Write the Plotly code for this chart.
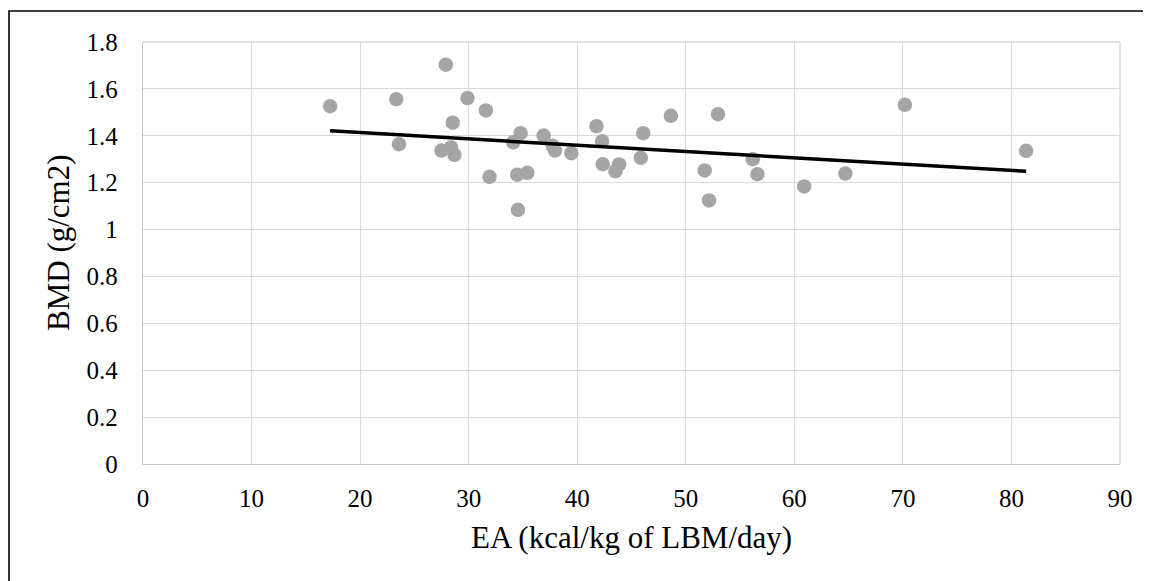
import numpy as np
import plotly.graph_objects as go

# Data
ea = [17.24, 23.33, 23.58, 27.89, 27.49, 28.38, 28.69, 28.53, 29.89, 31.58,
      31.92, 34.11, 34.78, 34.48, 35.40, 34.54, 36.91, 37.75, 37.95, 39.46,
      41.77, 42.29, 42.35, 43.86, 43.52, 46.08, 45.86, 48.63, 52.97, 51.74,
      52.14, 56.17, 56.60, 60.91, 64.70, 70.18, 81.35]
bmd = [1.526, 1.556, 1.364, 1.703, 1.337, 1.350, 1.319, 1.456, 1.561, 1.508,
       1.225, 1.372, 1.411, 1.234, 1.242, 1.084, 1.401, 1.357, 1.337, 1.326,
       1.441, 1.377, 1.279, 1.278, 1.249, 1.411, 1.306, 1.485, 1.492, 1.252,
       1.124, 1.300, 1.236, 1.184, 1.239, 1.532, 1.336]

x_ticks = [0, 10, 20, 30, 40, 50, 60, 70, 80, 90]
y_ticks = [0, 0.2, 0.4, 0.6, 0.8, 1, 1.2, 1.4, 1.6, 1.8]
y_tick_text = ["0", "0.2", "0.4", "0.6", "0.8", "1", "1.2", "1.4", "1.6", "1.8"]

x_title = "EA (kcal/kg of LBM/day)"
y_title = "BMD (g/cm2)"

# Linear trendline (least squares) through the data
slope, intercept = np.polyfit(ea, bmd, 1)
trend_x = [min(ea), max(ea)]
trend_y = [slope * v + intercept for v in trend_x]

FONT = "Liberation Serif"
OFF = 8  # page body margin in the browser
W, H = 1151 - OFF, 581 - OFF
ML, MT = 143 - OFF, 42 - OFF
PW, PH = 977, 422
MR = W - ML - PW
MB = H - MT - PH


def px_to_paper_x(px):
    return (px - OFF - ML) / PW


def px_to_paper_y(py):
    return (MT + PH - (py - OFF)) / PH


fig = go.Figure()
fig.add_trace(go.Scatter(
    x=ea, y=bmd, mode="markers",
    marker=dict(size=14.5, color="#A5A5A5", line=dict(width=0)),
    showlegend=False, hoverinfo="x+y"))
fig.add_trace(go.Scatter(
    x=trend_x, y=trend_y, mode="lines",
    line=dict(color="black", width=3.5),
    showlegend=False, hoverinfo="skip"))

fig.update_layout(
    width=W, height=H,
    margin=dict(l=ML, r=MR, t=MT, b=MB, autoexpand=False),
    paper_bgcolor="white", plot_bgcolor="white",
    font=dict(family=FONT, size=25, color="black"),
    xaxis=dict(range=[0, 90], tickvals=x_ticks, ticktext=[str(v) for v in x_ticks],
               showgrid=True, gridcolor="#D9D9D9", gridwidth=1.3,
               zeroline=False, showline=True, linecolor="#C8C8C8", linewidth=1.3,
               ticks="", ticklabelstandoff=12,
               tickfont=dict(family=FONT, size=25, color="black")),
    yaxis=dict(range=[0, 1.8], tickvals=y_ticks, ticktext=y_tick_text,
               showgrid=True, gridcolor="#D9D9D9", gridwidth=1.3,
               zeroline=False, showline=True, linecolor="#C8C8C8", linewidth=1.3,
               ticks="", ticklabelstandoff=19,
               tickfont=dict(family=FONT, size=25, color="black")),
    annotations=[
        dict(text=x_title, xref="paper", yref="paper",
             x=px_to_paper_x(631.5), y=px_to_paper_y(537),
             xanchor="center", yanchor="middle", showarrow=False,
             font=dict(family=FONT, size=31, color="black")),
        dict(text=y_title, xref="paper", yref="paper",
             x=px_to_paper_x(58), y=px_to_paper_y(243),
             xanchor="center", yanchor="middle", textangle=-90, showarrow=False,
             font=dict(family=FONT, size=31, color="black")),
    ],
    shapes=[
        dict(type="rect", xref="paper", yref="paper",
             x0=px_to_paper_x(9), y0=px_to_paper_y(620),
             x1=px_to_paper_x(1200), y1=px_to_paper_y(11),
             line=dict(color="black", width=1.6), fillcolor="rgba(0,0,0,0)",
             layer="above"),
        dict(type="line", xref="paper", yref="paper",
             x0=1, x1=1, y0=0, y1=1, line=dict(color="#D9D9D9", width=1.3), layer="below"),
        dict(type="line", xref="paper", yref="paper",
             x0=0, x1=1, y0=1, y1=1, line=dict(color="#D9D9D9", width=1.3), layer="below"),
    ],
)

fig.write_html("out.html")
